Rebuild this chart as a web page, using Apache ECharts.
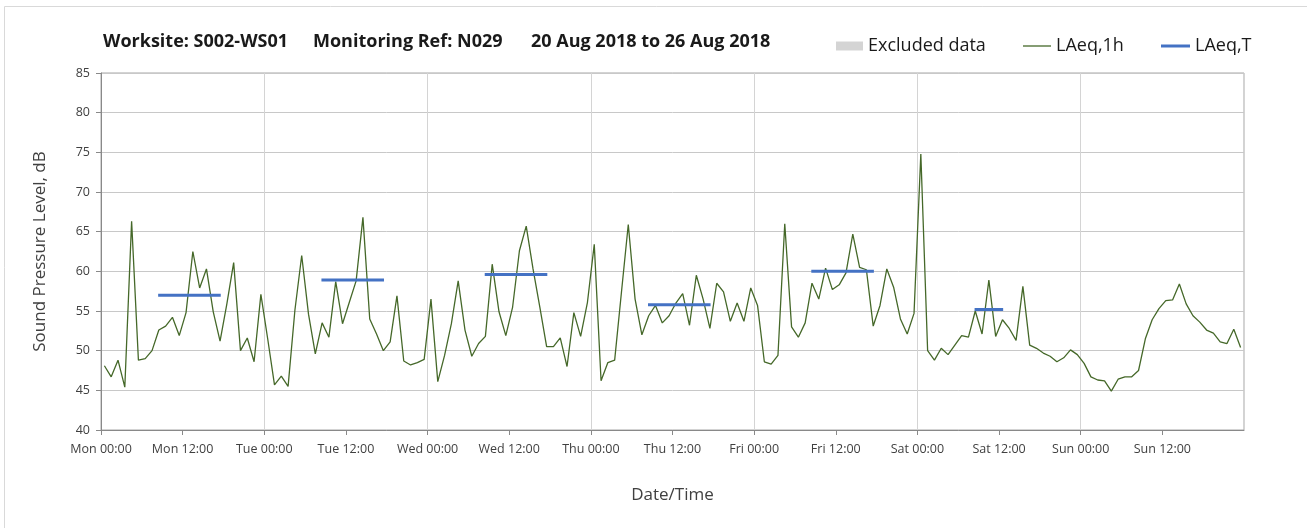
<!DOCTYPE html>
<html>
<head>
<meta charset="utf-8">
<script src="https://cdn.jsdelivr.net/npm/echarts@6/dist/echarts.min.js"></script>
<style>
  html, body { margin: 0; padding: 0; background: #fff; }
  #chart { width: 1307px; height: 528px; }
</style>
</head>
<body>
<div id="chart"></div>
<script>
// hourly LAeq,1h values, one array per day (points sit at hh:30)
const mon = [48.1, 46.7, 48.8, 45.4, 66.3, 48.8, 49.0, 50.0, 52.6, 53.1, 54.2, 51.9, 54.8, 62.5, 57.9, 60.3, 54.9, 51.2, 55.9, 61.1, 50.0, 51.6, 48.6, 57.1]
const tue = [51.5, 45.7, 46.8, 45.5, 55.1, 62.0, 54.6, 49.6, 53.5, 51.7, 58.7, 53.4, 56.1, 58.8, 66.8, 54.0, 52.1, 50.0, 51.1, 56.9, 48.7, 48.2, 48.5, 48.9]
const wed = [56.5, 46.1, 49.4, 53.4, 58.8, 52.6, 49.3, 50.9, 51.8, 60.9, 54.9, 51.9, 55.5, 62.6, 65.7, 60.3, 55.5, 50.5, 50.5, 51.6, 48.0, 54.8, 51.8, 56.1]
const thu = [63.4, 46.2, 48.5, 48.8, 57.4, 65.9, 56.5, 52.0, 54.4, 55.7, 53.5, 54.4, 56.0, 57.2, 53.2, 59.5, 56.5, 52.8, 58.5, 57.4, 53.7, 56.0, 53.7, 57.9]
const fri = [55.7, 48.6, 48.3, 49.4, 66.0, 53.0, 51.7, 53.5, 58.5, 56.5, 60.4, 57.7, 58.3, 59.8, 64.7, 60.5, 60.2, 53.1, 55.7, 60.3, 58.0, 54.0, 52.1, 54.7]
const sat = [74.8, 50.0, 48.8, 50.3, 49.5, 50.7, 51.9, 51.7, 55.0, 52.1, 58.9, 51.8, 53.9, 52.8, 51.3, 58.1, 50.7, 50.3, 49.7, 49.3, 48.6, 49.1, 50.1, 49.5]
const sun = [48.4, 46.7, 46.3, 46.2, 44.9, 46.4, 46.7, 46.7, 47.5, 51.5, 53.9, 55.3, 56.3, 56.4, 58.4, 55.9, 54.4, 53.6, 52.6, 52.2, 51.1, 50.9, 52.7, 50.4]

// LAeq,T per day period (hours from day start)
const periodValue = [57.0, 58.9, 59.6, 55.8, 60.0, 55.2]
const periodFrom = [8.4, 8.4, 8.4, 8.4, 8.4, 8.4]
const periodTo = [17.6, 17.6, 17.6, 17.6, 17.6, 12.6]

const dayNames = ['Mon', 'Tue', 'Wed', 'Thu', 'Fri', 'Sat', 'Sun']

const font = 'Open Sans'

const hourly = [mon, tue, wed, thu, fri, sat, sun]
const lineData = []
hourly.forEach((day, d) => {
  day.forEach((v, h) => {
    lineData.push([d * 24 + h + 0.5, v])
  })
})

const periodData = []
periodValue.forEach((v, d) => {
  periodData.push([d * 24 + periodFrom[d], v])
  periodData.push([d * 24 + periodTo[d], v])
  periodData.push([d * 24 + periodTo[d], '-'])
})

const titleStyle = { fontSize: 18, fontWeight: 'bold', color: '#1a1a1a', fontFamily: font }
const legendText = { fontSize: 18, color: '#1a1a1a' }

const chart = echarts.init(document.getElementById('chart'))

chart.setOption({
  animation: false,
  textStyle: { fontFamily: font },
  graphic: [
    {
      type: 'rect',
      shape: { x: 4.5, y: 6.5, width: 1320, height: 540 },
      style: { fill: 'none', stroke: '#d9d9d9', lineWidth: 1 }
    }
  ],
  title: [
    { text: 'Worksite: S002-WS01', left: 103, top: 33, padding: 0, textStyle: titleStyle },
    { text: 'Monitoring Ref: N029', left: 313, top: 33, padding: 0, textStyle: titleStyle },
    { text: '20 Aug 2018 to 26 Aug 2018', left: 531, top: 33, padding: 0, textStyle: titleStyle }
  ],
  legend: [
    {
      data: [{ name: 'Excluded data', icon: 'rect' }],
      left: 836, top: 37, padding: 0, itemWidth: 27, itemHeight: 9, itemGap: 5,
      textStyle: legendText
    },
    {
      data: [{ name: 'LAeq,1h', icon: 'path://M0,0 h28 v1.3 h-28 Z' }],
      left: 1023, top: 37, padding: 0, itemWidth: 28, itemHeight: 9,
      textStyle: legendText
    },
    {
      data: [{ name: 'LAeq,T', icon: 'path://M0,0 h29 v3 h-29 Z' }],
      left: 1161, top: 37, padding: 0, itemWidth: 29, itemHeight: 9,
      textStyle: legendText
    }
  ],
  grid: {
    left: 101, right: 63, top: 73, bottom: 98,
    show: true, borderColor: '#a6a6a6', borderWidth: 1, backgroundColor: 'transparent'
  },
  xAxis: [
    {
      type: 'value',
      min: 0, max: 168, interval: 12,
      name: 'Date/Time',
      nameLocation: 'middle',
      nameGap: 57,
      nameTextStyle: { fontSize: 17, color: '#404040' },
      axisLine: { lineStyle: { color: '#898989' } },
      axisTick: { show: true, length: 5, lineStyle: { color: '#898989' } },
      splitLine: { show: false },
      axisLabel: {
        fontSize: 12.5, color: '#404040', margin: 13,
        showMaxLabel: false,
        formatter: v => dayNames[Math.floor(v / 24)] + (v % 24 ? ' 12:00' : ' 00:00')
      }
    },
    {
      type: 'value',
      min: 0, max: 168, interval: 24,
      position: 'bottom',
      axisLine: { show: false },
      axisTick: { show: false },
      axisLabel: { show: false },
      splitLine: { show: true, lineStyle: { color: '#d4d4d4', width: 1 } }
    }
  ],
  yAxis: {
    type: 'value',
    min: 40, max: 85, interval: 5,
    name: 'Sound Pressure Level, dB',
    nameLocation: 'middle',
    nameGap: 52,
    nameTextStyle: { fontSize: 17, color: '#404040' },
    axisLine: { show: true, lineStyle: { color: '#898989' } },
    axisTick: { show: true, length: 5, lineStyle: { color: '#898989' } },
    axisLabel: { fontSize: 12.5, color: '#404040', margin: 11 },
    splitLine: { lineStyle: { color: '#c8c8c8', width: 1 } }
  },
  series: [
    {
      name: 'Excluded data',
      type: 'bar',
      data: [],
      itemStyle: { color: '#d4d4d4' }
    },
    {
      name: 'LAeq,1h',
      type: 'line',
      data: lineData,
      symbol: 'none',
      lineStyle: { color: '#456829', width: 1.3 },
      itemStyle: { color: '#456829' },
      z: 3
    },
    {
      name: 'LAeq,T',
      type: 'line',
      data: periodData,
      symbol: 'none',
      connectNulls: false,
      lineStyle: { color: '#4472c4', width: 3 },
      itemStyle: { color: '#4472c4' },
      z: 4
    }
  ]
})
</script>
</body>
</html>
